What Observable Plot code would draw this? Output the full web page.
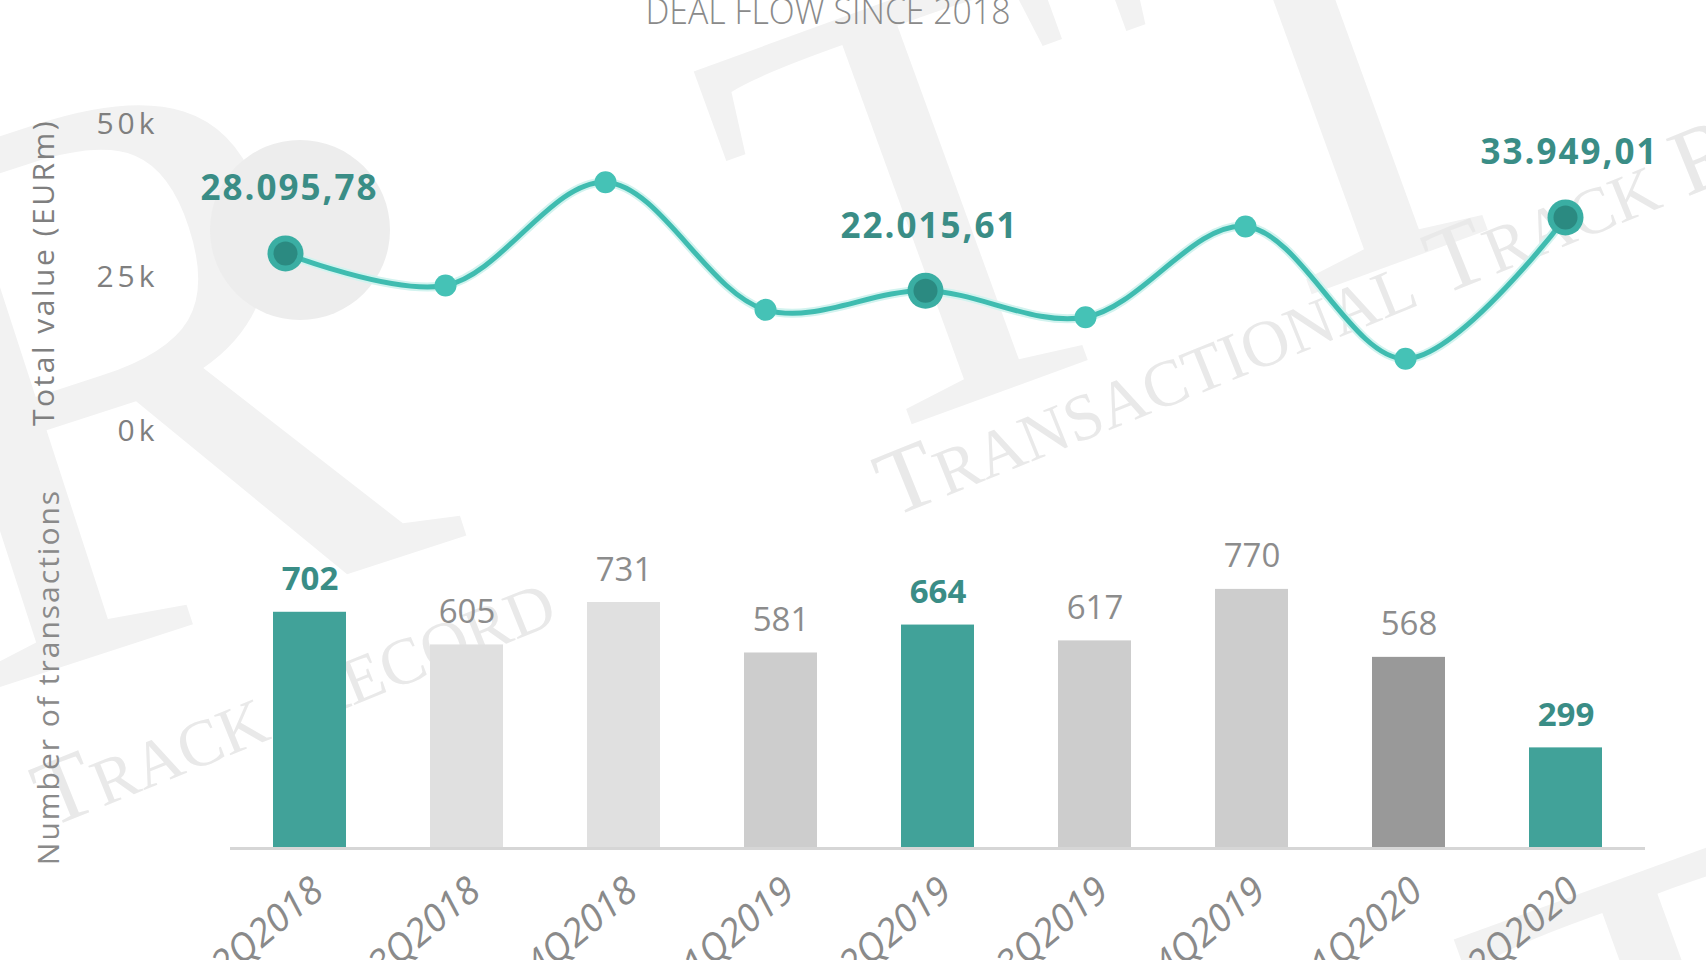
<!DOCTYPE html>
<html><head><meta charset="utf-8">
<script src="https://cdn.jsdelivr.net/npm/d3@7"></script>
<script src="https://cdn.jsdelivr.net/npm/@observablehq/plot@0.6"></script>
<style>
body{margin:0;background:#fff;width:1706px;height:960px;overflow:hidden;position:relative;font-family:"Open Sans",sans-serif;}
.layer{position:absolute;left:0;}
.layer svg{overflow:visible;}
#top svg g[aria-label="y-axis tick label"] text{letter-spacing:4px;}
#top svg g[aria-label="y-axis label"] text{letter-spacing:2.5px;}
#top svg g[aria-label="text"] text{letter-spacing:2px;}
</style></head><body>
<div id="wm" class="layer" style="top:0"></div>
<div id="top" class="layer" style="top:0"></div>
<div id="bottom" class="layer" style="top:460px"></div>
<div id="deco" class="layer" style="top:0"></div>
<script>
// ---- data ----
const titleText = "DEAL FLOW SINCE 2018";
const periods = ["2Q2018","3Q2018","4Q2018","1Q2019","2Q2019","3Q2019","4Q2019","1Q2020","2Q2020"];
const totalValue = [28095.78, 22870, 39690, 18910, 22015.61, 17700, 32480, 10930, 33949.01];
const transactions = [702, 605, 731, 581, 664, 617, 770, 568, 299];
const highlighted = ["2Q2018", "2Q2019", "2Q2020"];
const valueTicks = [0, 25000, 50000];
const valueLabel = "Total value (EURm)";
const countLabel = "Number of transactions";

const rows = periods.map((p, i) => ({
  period: p, value: totalValue[i], count: transactions[i],
  hl: highlighted.includes(p), year: p.slice(2)
}));
const eu = d3.formatLocale({decimal: ",", thousands: ".", grouping: [3], currency: ["", ""]});
const fmt = eu.format(",.2f");

const teal = "#3fbcb0", tealDark = "#3a8d86";

// ---- watermark (decoration) ----
document.getElementById("wm").innerHTML = `
<svg width="1706" height="960" style="overflow:hidden">
  <g fill="#f2f2f2" font-family="Liberation Serif, serif">
    <text x="-40" y="700" font-size="800" transform="rotate(-18 -40 700)">R</text>
    <circle cx="300" cy="230" r="90" fill="#ededed"/>
    <text x="1000" y="392" font-size="620" text-anchor="middle" transform="rotate(-20 1000 392)">T</text>
    <text x="1400" y="262" font-size="620" text-anchor="middle" transform="rotate(-20 1400 262)">T</text>
    <text x="1760" y="1260" font-size="620" text-anchor="middle" transform="rotate(-20 1760 1260)">T</text>
  </g>
  <g fill="#e9e9e9" font-family="Liberation Serif, serif" font-variant="small-caps">
    <text x="892" y="518" font-size="94" transform="rotate(-22 892 518)">Transactional Track Record</text>
    <text x="560" y="622" font-size="94" text-anchor="end" transform="rotate(-22 560 622)">Track Record</text>
  </g>
</svg>`;

// ---- top: total value line ----
const topPlot = Plot.plot({
  width: 1706, height: 460,
  marginTop: 118.4, marginBottom: 34.6, marginLeft: 160, marginRight: 60,
  style: {background: "transparent", overflow: "visible", fontFamily: "Open Sans, sans-serif"},
  x: {type: "point", domain: periods, range: [283, 1566], padding: 0, axis: null},
  y: {domain: [0, 50000]},
  marks: [
    Plot.axisY(valueTicks, {
      tickSize: 0, tickPadding: 2, tickFormat: d => d / 1000 + "k",
      fontSize: 30, fill: "#7f7f7f", dy: 5,
      label: valueLabel, labelAnchor: "center", labelOffset: 128, labelArrow: "none"
    }),
    Plot.line(rows, {x: "period", y: "value", curve: "catmull-rom", stroke: "#d2f3ef", strokeWidth: 9}),
    Plot.line(rows, {x: "period", y: "value", curve: "catmull-rom", stroke: teal, strokeWidth: 5}),
    Plot.dot(rows.filter(d => !d.hl), {x: "period", y: "value", r: 11, fill: "#45c2b6"}),
    Plot.dot(rows.filter(d => d.hl), {x: "period", y: "value", r: 18, fill: "#3aaea3"}),
    Plot.dot(rows.filter(d => d.hl), {x: "period", y: "value", r: 12, fill: "#2b8a81"}),
    Plot.text(rows.filter(d => d.hl), {
      x: "period", y: "value", text: d => fmt(d.value),
      dy: -53, dx: 4, lineAnchor: "bottom", fontSize: 35, fontWeight: 700, fill: tealDark
    })
  ]
});
document.getElementById("top").append(topPlot);

// ---- bottom: transactions bars ----
const botPlot = Plot.plot({
  width: 1706, height: 520,
  marginTop: 118.8, marginBottom: 132, marginLeft: 230, marginRight: 61,
  style: {background: "transparent", overflow: "visible", fontFamily: "Open Sans, sans-serif"},
  x: {type: "band", domain: periods, paddingInner: 0.536, paddingOuter: 0.263},
  y: {domain: [0, 800], axis: null},
  color: {domain: ["2018", "2019", "2020", "hl"], range: ["#e0e0e0", "#cdcdcd", "#999999", "#41a299"]},
  marks: [
    Plot.barY(rows, {x: "period", y: "count", fill: d => d.hl ? "hl" : d.year}),
    Plot.ruleY([0], {stroke: "#d6d6d6", strokeWidth: 3}),
    Plot.text(rows.filter(d => !d.hl), {
      x: "period", y: "count", text: d => String(d.count),
      dy: -22, lineAnchor: "bottom", fontSize: 33, fill: "#8c8c8c"
    }),
    Plot.text(rows.filter(d => d.hl), {
      x: "period", y: "count", text: d => String(d.count),
      dy: -22, lineAnchor: "bottom", fontSize: 33, fontWeight: 700, fill: tealDark
    }),
    Plot.axisX({
      tickSize: 0, tickRotate: -40, tickPadding: 37, dx: 8,
      fontSize: 38, fill: "#8a8a8a", fontStyle: "italic", label: null
    })
  ]
});
document.getElementById("bottom").append(botPlot);

// ---- title and lower axis title ----
document.getElementById("deco").innerHTML = `
<svg width="1706" height="960" style="overflow:visible">
  <text x="828" y="24" text-anchor="middle" font-family="Open Sans, sans-serif" font-weight="300"
        font-size="36" fill="#8a8a8a" textLength="365" lengthAdjust="spacingAndGlyphs">${titleText}</text>
  <text transform="translate(59 677) rotate(-90)" text-anchor="middle" font-family="Open Sans, sans-serif"
        font-size="30" fill="#8a8a8a" letter-spacing="2">${countLabel}</text>
</svg>`;
</script>
</body></html>
